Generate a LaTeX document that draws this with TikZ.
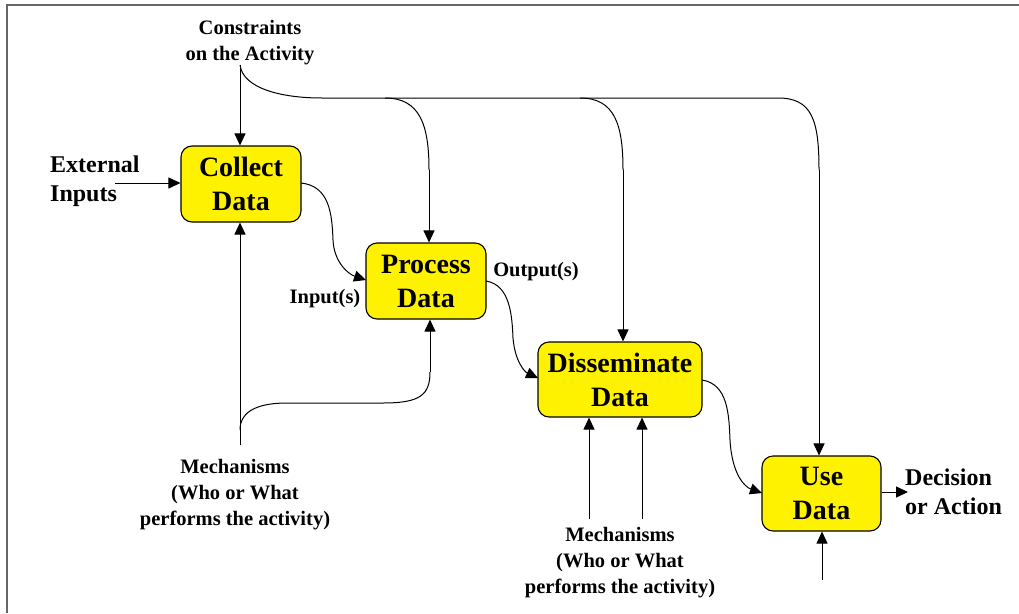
\documentclass[tikz,border=0pt]{standalone}
\usepackage{fontspec}
\setmainfont{Liberation Serif}
\usetikzlibrary{arrows.meta}
\begin{document}
\begin{tikzpicture}[x=1pt,y=-1pt,
  box/.style={draw=black,line width=1.1pt,fill=yellow,rounded corners=11pt,
    align=center,inner sep=0pt,font=\fontsize{28}{34}\selectfont\bfseries},
  lbl/.style={align=center,inner sep=0pt,font=\fontsize{20.5}{26}\selectfont\bfseries},
  biglbl/.style={align=left,inner sep=0pt,font=\fontsize{24}{28.5}\selectfont\bfseries},
  conn/.style={line width=1pt},
  arr/.style={line width=1pt,-{Triangle[length=12pt,width=11pt]}},
  frame/.style={draw=gray!80!black,line width=2pt}]
\useasboundingbox (0,0) rectangle (1019,613);
% frame
\coordinate (f0) at (7,5);
\coordinate (f1) at (1019,5);
\coordinate (f2) at (7,613);
\draw[frame] (f1) -- (f0) -- (f2);

% boxes
\node[box,minimum width=120pt,minimum height=76pt] (collect) at (241,184) {Collect\\Data};
\node[box,minimum width=120pt,minimum height=76pt] (process) at (426,281) {Process\\Data};
\node[box,minimum width=164pt,minimum height=75pt] (dissem) at (620,379.5) {Disseminate\\Data};
\node[box,minimum width=119pt,minimum height=75pt] (use) at (821.5,493.5) {Use\\Data};

% labels
\node[lbl] (cons) at (250,43) {Constraints\\on the Activity};
\node[biglbl,anchor=west] (ext) at (50,181) {External\\Inputs};
\node[lbl] (inp) at (325,299) {Input(s)};
\node[lbl] (outp) at (536,272) {Output(s)};
\node[lbl] (mech1) at (235,495) {Mechanisms\\(Who or What\\performs the activity)};
\node[lbl] (mech2) at (620,563) {Mechanisms\\(Who or What\\performs the activity)};
\node[biglbl,anchor=west] (dec) at (905,492) {Decision\\or Action};

% constraints
\coordinate (c0) at (240,65);
\coordinate (h0) at (322,98);
\coordinate (hp) at (385,98);
\coordinate (hd) at (580,98);
\coordinate (hu) at (778,98);
\coordinate (vp) at (429,170);
\coordinate (vd) at (623,170);
\coordinate (vu) at (819,170);
\draw[arr] (c0) -- (c0 |- collect.north);
\draw[conn] (c0) .. controls (243,88) and (280,98) .. (h0) -- (hu)
  .. controls (812,98) and (819,120) .. (vu);
\draw[arr] (vu) -- (vu |- use.north);
\draw[conn] (hp) .. controls (420,98) and (429,125) .. (vp);
\draw[arr] (vp) -- (vp |- process.north);
\draw[conn] (hd) .. controls (615,98) and (623,125) .. (vd);
\draw[arr] (vd) -- (vd |- dissem.north);

% external inputs
\coordinate (e0) at (115,183);
\draw[arr] (e0) -- (e0 -| collect.west);

% flow between boxes
\coordinate (cp0) at (301,183);
\coordinate (cp1) at (366,280);
\draw[arr] (cp0) .. controls (330,186) and (332,215) .. (333,240)
  .. controls (334,262) and (348,274) .. (cp1);
\coordinate (pd0) at (486,281);
\coordinate (pd1) at (538,378);
\draw[arr] (pd0) .. controls (510,285) and (512,315) .. (513,338)
  .. controls (515,362) and (525,372) .. (pd1);
\coordinate (du0) at (702,380);
\coordinate (du1) at (762,493);
\draw[arr] (du0) .. controls (728,384) and (729,415) .. (730,440)
  .. controls (732,475) and (745,487) .. (du1);

% mechanisms 1
\coordinate (m0) at (240,445);
\coordinate (mb) at (240,430);
\coordinate (mh0) at (287,403);
\coordinate (mh1) at (383,403);
\coordinate (mv) at (430,372);
\draw[arr] (m0) -- (m0 |- collect.south);
\draw[conn] (mb) .. controls (240,410) and (260,403) .. (mh0) -- (mh1)
  .. controls (420,403) and (430,395) .. (mv);
\draw[arr] (mv) -- (mv |- process.south);

% mechanisms 2
\coordinate (m2a) at (589,519);
\coordinate (m2b) at (642,519);
\draw[arr] (m2a) -- (m2a |- dissem.south);
\draw[arr] (m2b) -- (m2b |- dissem.south);

% use data bottom and output
\coordinate (ub) at (822,580);
\draw[arr] (ub) -- (ub |- use.south);
\coordinate (uo) at (908,492);
\draw[arr] (use.east |- uo) -- (uo);
\end{tikzpicture}
\end{document}
